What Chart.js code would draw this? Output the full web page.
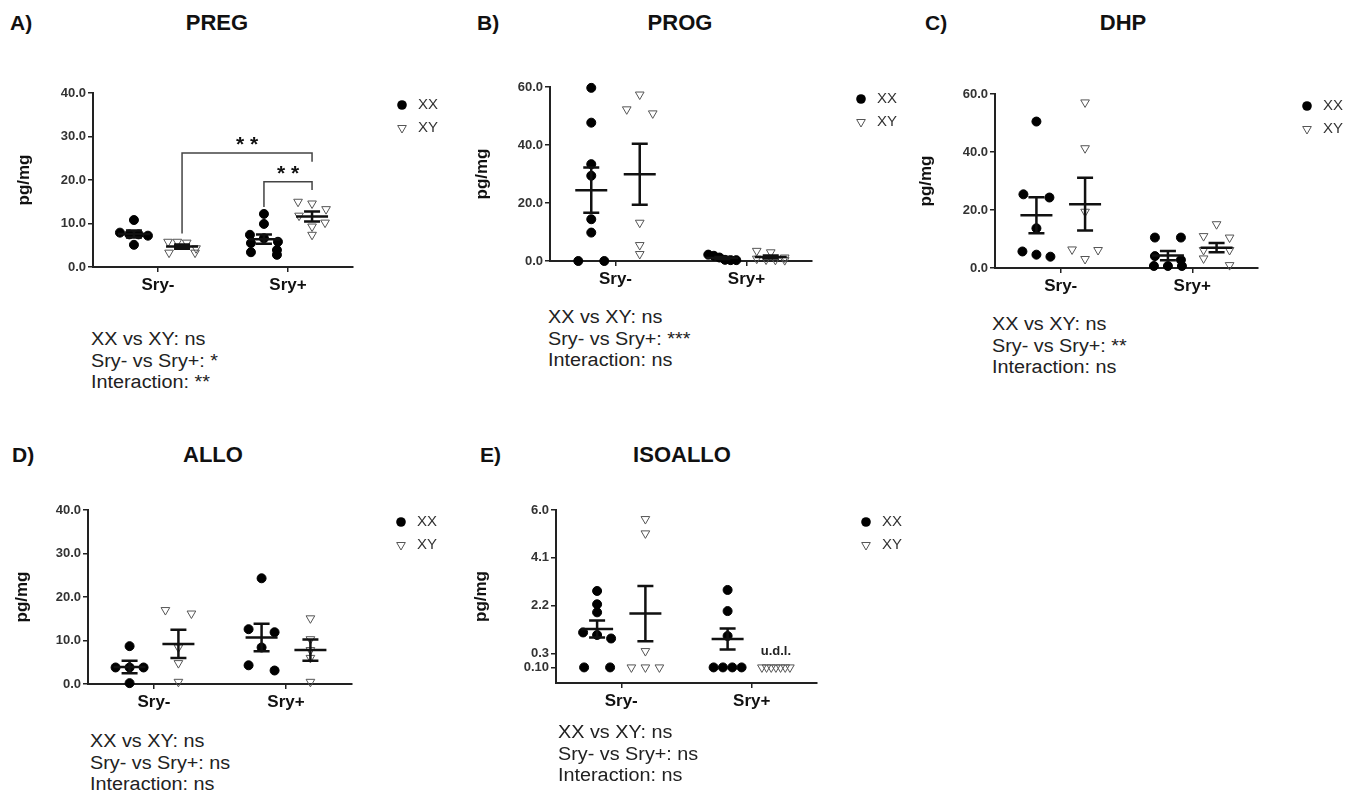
<!DOCTYPE html>
<html>
<head>
<meta charset="utf-8">
<script src="https://cdn.jsdelivr.net/npm/chart.js@4.4.1/dist/chart.umd.min.js"></script>
<style>
body { margin: 0; background: #fff; width: 1353px; height: 792px; position: relative; overflow: hidden;
       font-family: "Liberation Sans", Arial, sans-serif; }
.panel-canvas { position: absolute; }
.lbl { position: absolute; font-weight: bold; font-size: 21px; line-height: 24px; color: #111; white-space: nowrap; }
.ttl { position: absolute; font-weight: bold; font-size: 22px; line-height: 24px; color: #111; width: 200px; text-align: center; }
.stats { position: absolute; font-size: 18px; line-height: 21.5px; color: #222; white-space: nowrap;
         transform: scaleX(1.1); transform-origin: left top; }
</style>
</head>
<body>
<script>
// Categories / groups
const categories = ['Sry-', 'Sry+'];
const genotypes = ['XX', 'XY'];

// PREG (pg/mg)
const pregXXneg = [10.8, 7.9, 7.5, 7.5, 7.2, 5.1];
const pregXYneg = [5.8, 5.6, 5.8, 4.3, 3.3, 3.3];
const pregXXpos = [12.2, 9.9, 7.4, 6.6, 5.8, 5.5, 3.9, 3.4, 2.8];
const pregXYpos = [15.0, 14.6, 13.3, 11.8, 10.2, 9.3, 7.4];
const pregMean = [7.6, 4.7, 6.4, 11.6];
const pregSem = [0.8, 0.5, 1.05, 1.15];
const pregTicks = [0, 10, 20, 30, 40];
const pregStats = ['XX vs XY: ns', 'Sry- vs Sry+: *', 'Interaction: **'];
// significance brackets: from group, to group, bracket height, leg ends (pg/mg)
const pregSig = [
    { from: 1, to: 3, top: 26.2, leftEnd: 7.7, rightEnd: 24.2, label: '* *' },
    { from: 2, to: 3, top: 19.6, leftEnd: 13.8, rightEnd: 17.7, label: '* *' }
];

// PROG
const progXXneg = [59.7, 47.7, 33.4, 29.4, 14.4, 9.8, 0, 0];
const progXYneg = [57.4, 52.3, 50.9, 13.2, 5.5, 2.4];
const progXXpos = [2.2, 1.8, 1.2, 0.4, 0.3, 0.3];
const progXYpos = [3.5, 3.0, 1.2, 0.8, 0.5, 0.4, 0.3];
const progMean = [24.4, 29.9, 1.0, 1.4];
const progSem = [7.8, 10.5, 0.35, 0.5];
const progTicks = [0, 20, 40, 60];
const progStats = ['XX vs XY: ns', 'Sry- vs Sry+: ***', 'Interaction: ns'];

// DHP
const dhpXXneg = [50.5, 25.4, 24.3, 13.7, 5.7, 4.6, 3.9];
const dhpXYneg = [57.1, 41.3, 19.4, 6.4, 6.2, 3.1];
const dhpXXpos = [10.5, 10.5, 4.1, 2.8, 0.7, 0.7, 0.7];
const dhpXYpos = [15.1, 11.0, 10.5, 6.2, 6.2, 3.3, 1.0];
const dhpMean = [18.2, 22.0, 4.3, 7.0];
const dhpSem = [6.2, 9.1, 1.6, 1.6];
const dhpTicks = [0, 20, 40, 60];
const dhpStats = ['XX vs XY: ns', 'Sry- vs Sry+: **', 'Interaction: ns'];

// ALLO
const alloXXneg = [8.7, 3.8, 3.8, 3.8, 0.2];
const alloXYneg = [17.0, 16.2, 8.4, 4.8, 0.5];
const alloXXpos = [24.3, 12.6, 11.9, 8.4, 4.3, 3.1];
const alloXYpos = [15.1, 10.3, 7.8, 6.0, 0.5];
const alloMean = [3.9, 9.2, 10.7, 7.8];
const alloSem = [1.45, 3.25, 3.15, 2.45];
const alloTicks = [0, 10, 20, 30, 40];
const alloStats = ['XX vs XY: ns', 'Sry- vs Sry+: ns', 'Interaction: ns'];

// ISOALLO (0.10 = under detection limit, drawn on a broken axis segment)
const isoXXneg = [2.78, 2.25, 1.93, 1.13, 1.03, 0.89, 0.10, 0.10];
const isoXYneg = [5.64, 5.07, 0.39, 0.10, 0.10, 0.10];
const isoXXpos = [2.82, 1.98, 0.99, 0.10, 0.10, 0.10, 0.10];
const isoXYpos = [0.10, 0.10, 0.10, 0.10, 0.10, 0.10, 0.10];
const isoMean = [1.27, 1.88, 0.87, null];
const isoSem = [0.34, 1.1, 0.42, null];
const isoTicks = [0.10, 0.3, 2.2, 4.1, 6.0];
const isoTickLabels = ['0.10', '0.3', '2.2', '4.1', '6.0'];
const isoStats = ['XX vs XY: ns', 'Sry- vs Sry+: ns', 'Interaction: ns'];

// --- styling / layout ---
Chart.defaults.font.family = '"Liberation Sans", Arial, sans-serif';
const groupOffset = 0.185;
const groupCenters = [1 - groupOffset, 1 + groupOffset, 2 - groupOffset, 2 + groupOffset];

const xxStyle = { pointStyle: 'circle', pointRadius: 4.5, backgroundColor: '#000', borderColor: '#000', borderWidth: 1 };
const xyStyle = { pointStyle: 'triangle', rotation: 180, pointRadius: 5, backgroundColor: 'rgba(255,255,255,0)', borderColor: '#555', borderWidth: 1 };

// broken axis for ISOALLO: below 0.3 the scale is stretched
const isoPos = v => (v >= 0.3 ? v : 0.3 - (0.3 - v) * 2.8);

function addDiv(cls, text, left, top) {
    const d = document.createElement('div');
    d.className = cls;
    d.style.left = left + 'px';
    d.style.top = top + 'px';
    d.innerHTML = text;
    document.body.appendChild(d);
    return d;
}

function drawMarker(ctx, style, x, y) {
    ctx.save();
    ctx.beginPath();
    if (style === 'circle') {
        ctx.arc(x, y, 4.8, 0, Math.PI * 2);
        ctx.fillStyle = '#000';
        ctx.fill();
    } else {
        const r = 5;
        ctx.moveTo(x, y + r);
        ctx.lineTo(x - r * 0.866, y - r * 0.5);
        ctx.lineTo(x + r * 0.866, y - r * 0.5);
        ctx.closePath();
        ctx.strokeStyle = '#555';
        ctx.lineWidth = 1;
        ctx.stroke();
    }
    ctx.restore();
}

function overlayPlugin(p) {
    const tf = p.transform || (v => v);
    return {
        id: 'overlay_' + p.id,
        afterDatasetsDraw(chart) {
            const ctx = chart.ctx, xs = chart.scales.x, ys = chart.scales.y;
            const area = chart.chartArea;
            ctx.save();
            // mean +/- SEM
            ctx.strokeStyle = '#111';
            ctx.lineWidth = 2.5;
            p.mean.forEach((m, gi) => {
                if (m == null) return;
                const cx = xs.getPixelForValue(groupCenters[gi]);
                const ym = ys.getPixelForValue(tf(m));
                const yt = ys.getPixelForValue(tf(m + p.sem[gi]));
                const yb = ys.getPixelForValue(tf(m - p.sem[gi]));
                ctx.beginPath();
                ctx.moveTo(cx - 16, ym); ctx.lineTo(cx + 16, ym);
                ctx.moveTo(cx, yt); ctx.lineTo(cx, yb);
                ctx.moveTo(cx - 8, yt); ctx.lineTo(cx + 8, yt);
                ctx.moveTo(cx - 8, yb); ctx.lineTo(cx + 8, yb);
                ctx.stroke();
            });
            // significance brackets
            (p.sig || []).forEach(s => {
                const x1 = xs.getPixelForValue(groupCenters[s.from]);
                const x2 = xs.getPixelForValue(groupCenters[s.to]);
                const yTop = ys.getPixelForValue(s.top);
                ctx.strokeStyle = '#444';
                ctx.lineWidth = 1.5;
                ctx.beginPath();
                ctx.moveTo(x1, ys.getPixelForValue(s.leftEnd));
                ctx.lineTo(x1, yTop);
                ctx.lineTo(x2, yTop);
                ctx.lineTo(x2, ys.getPixelForValue(s.rightEnd));
                ctx.stroke();
                ctx.fillStyle = '#111';
                ctx.font = 'bold 21px "Liberation Sans", Arial, sans-serif';
                ctx.textAlign = 'center';
                ctx.textBaseline = 'alphabetic';
                ctx.fillText(s.label, (x1 + x2) / 2, yTop - 2);
            });
            // under-detection-limit label
            if (p.udl) {
                const cx = xs.getPixelForValue(groupCenters[p.udl.group]);
                const cy = ys.getPixelForValue(tf(p.udl.value));
                ctx.fillStyle = '#222';
                ctx.font = 'bold 13px "Liberation Sans", Arial, sans-serif';
                ctx.textAlign = 'center';
                ctx.textBaseline = 'middle';
                ctx.fillText(p.udl.text, cx, cy - 16);
            }
            // legend
            const lx = area.right + 49, ly = area.top + 12;
            ctx.font = '15px "Liberation Sans", Arial, sans-serif';
            ctx.fillStyle = '#333';
            ctx.textAlign = 'left';
            ctx.textBaseline = 'middle';
            drawMarker(ctx, 'circle', lx, ly);
            ctx.fillText(genotypes[0], lx + 16, ly);
            drawMarker(ctx, 'triangle', lx, ly + 23);
            ctx.fillText(genotypes[1], lx + 16, ly + 23);
            ctx.restore();
        }
    };
}

// spread overlapping points sideways, GraphPad style
function arrangeSwarm(chart, groups, tf) {
    const xs = chart.scales.x, ys = chart.scales.y;
    const pxPerX = xs.getPixelForValue(1) - xs.getPixelForValue(0);
    chart.data.datasets.forEach((ds, gi) => {
        const vals = groups[gi].map(tf);
        const order = vals.map((v, i) => i).sort((a, b) => vals[b] - vals[a]);
        const rows = [];
        let cur = null;
        order.forEach(i => {
            const py = ys.getPixelForValue(vals[i]);
            if (cur && py - cur.py0 < 7.5) cur.items.push(i);
            else { cur = { py0: py, items: [i] }; rows.push(cur); }
        });
        const pts = new Array(vals.length);
        rows.forEach(r => {
            const n = r.items.length;
            const step = n > 1 ? Math.min(26, 28 / (n - 1)) : 0;
            r.items.forEach((i, k) => {
                pts[i] = { x: groupCenters[gi] + (k - (n - 1) / 2) * step / pxPerX, y: vals[i] };
            });
        });
        ds.data = pts;
    });
    chart.update('none');
}

function makePanel(p) {
    const L = p.layout;
    const tf = p.transform || (v => v);
    const pw = L.right - L.left, ph = L.bottom - L.top;
    const cl = L.left - 90, ct = L.top - 20, cw = pw + 200, chh = ph + 60;
    const cv = document.createElement('canvas');
    cv.className = 'panel-canvas';
    cv.width = cw; cv.height = chh;
    cv.style.left = cl + 'px'; cv.style.top = ct + 'px';
    cv.style.width = cw + 'px'; cv.style.height = chh + 'px';
    document.body.appendChild(cv);

    addDiv('lbl', p.letter, L.letterX, L.titleY - 12);
    addDiv('ttl', p.name, L.titleX - 100, L.titleY - 12);
    addDiv('stats', p.stats.join('<br>'), L.statsX, L.statsY - 10.75);

    const datasets = p.groups.map((vals, gi) => Object.assign({
        label: genotypes[gi % 2] + ' ' + categories[gi >> 1],
        data: vals.map(v => ({ x: groupCenters[gi], y: tf(v) })),
        clip: false
    }, gi % 2 === 0 ? xxStyle : xyStyle));

    const chart = new Chart(cv.getContext('2d'), {
        type: 'scatter',
        data: { datasets },
        options: {
            responsive: false,
            animation: false,
            devicePixelRatio: 1,
            layout: { padding: { left: 0, top: 20, right: 110, bottom: 0 } },
            plugins: { legend: { display: false }, tooltip: { enabled: false } },
            scales: {
                x: {
                    type: 'linear', min: 0.5, max: 2.5,
                    afterBuildTicks: s => { s.ticks = [{ value: 1 }, { value: 2 }]; },
                    afterFit: s => { s.height = 40; },
                    ticks: {
                        callback: (v, i) => categories[i],
                        font: { size: 17, weight: 'bold' }, color: '#111',
                        padding: 3, maxRotation: 0, autoSkip: false
                    },
                    grid: { drawOnChartArea: false, tickLength: 5, color: '#222', lineWidth: 1.5 },
                    border: { color: '#222', width: 2 }
                },
                y: {
                    type: 'linear', min: p.yMin, max: p.yMax,
                    afterBuildTicks: s => { s.ticks = p.ticks.map(v => ({ value: tf(v) })); },
                    afterFit: s => { s.width = 90; },
                    ticks: {
                        callback: (v, i) => p.tickLabels[i],
                        font: { size: 13, weight: 'bold' }, color: '#333', padding: 2, autoSkip: false
                    },
                    grid: { drawOnChartArea: false, tickLength: 5, color: '#222', lineWidth: 1.5 },
                    border: { color: '#222', width: 2 },
                    title: {
                        display: true, text: 'pg/mg', color: '#111',
                        font: { size: 17, weight: 'bold' },
                        padding: { top: L.yTitleX - cl - 10.2, bottom: 0 }
                    }
                }
            }
        },
        plugins: [overlayPlugin(p)]
    });
    arrangeSwarm(chart, p.groups, tf);
    return chart;
}

const fmt1 = arr => arr.map(v => v.toFixed(1));

makePanel({
    id: 'preg', letter: 'A)', name: 'PREG',
    layout: { left: 93, top: 93, right: 353, bottom: 267, yTitleX: 24, letterX: 10, titleX: 217, titleY: 23, statsX: 91, statsY: 340 },
    groups: [pregXXneg, pregXYneg, pregXXpos, pregXYpos],
    mean: pregMean, sem: pregSem, ticks: pregTicks, tickLabels: fmt1(pregTicks),
    yMin: 0, yMax: 40, stats: pregStats, sig: pregSig
});
makePanel({
    id: 'prog', letter: 'B)', name: 'PROG',
    layout: { left: 550, top: 87, right: 812, bottom: 261, yTitleX: 482, letterX: 477, titleX: 680, titleY: 23, statsX: 548, statsY: 318 },
    groups: [progXXneg, progXYneg, progXXpos, progXYpos],
    mean: progMean, sem: progSem, ticks: progTicks, tickLabels: fmt1(progTicks),
    yMin: 0, yMax: 60, stats: progStats
});
makePanel({
    id: 'dhp', letter: 'C)', name: 'DHP',
    layout: { left: 995, top: 94, right: 1258, bottom: 268, yTitleX: 926, letterX: 925, titleX: 1123, titleY: 23, statsX: 992, statsY: 325 },
    groups: [dhpXXneg, dhpXYneg, dhpXXpos, dhpXYpos],
    mean: dhpMean, sem: dhpSem, ticks: dhpTicks, tickLabels: fmt1(dhpTicks),
    yMin: 0, yMax: 60, stats: dhpStats
});
makePanel({
    id: 'allo', letter: 'D)', name: 'ALLO',
    layout: { left: 88, top: 510, right: 352, bottom: 684, yTitleX: 22, letterX: 12, titleX: 213, titleY: 455, statsX: 90, statsY: 742 },
    groups: [alloXXneg, alloXYneg, alloXXpos, alloXYpos],
    mean: alloMean, sem: alloSem, ticks: alloTicks, tickLabels: fmt1(alloTicks),
    yMin: 0, yMax: 40, stats: alloStats
});
makePanel({
    id: 'iso', letter: 'E)', name: 'ISOALLO',
    layout: { left: 556, top: 510, right: 817, bottom: 683, yTitleX: 481, letterX: 480, titleX: 682, titleY: 455, statsX: 558, statsY: 733 },
    groups: [isoXXneg, isoXYneg, isoXXpos, isoXYpos],
    mean: isoMean, sem: isoSem, ticks: isoTicks, tickLabels: isoTickLabels,
    yMin: -0.88, yMax: 6.0, stats: isoStats, transform: isoPos,
    udl: { group: 3, value: 0.10, text: 'u.d.l.' }
});
</script>
</body>
</html>
